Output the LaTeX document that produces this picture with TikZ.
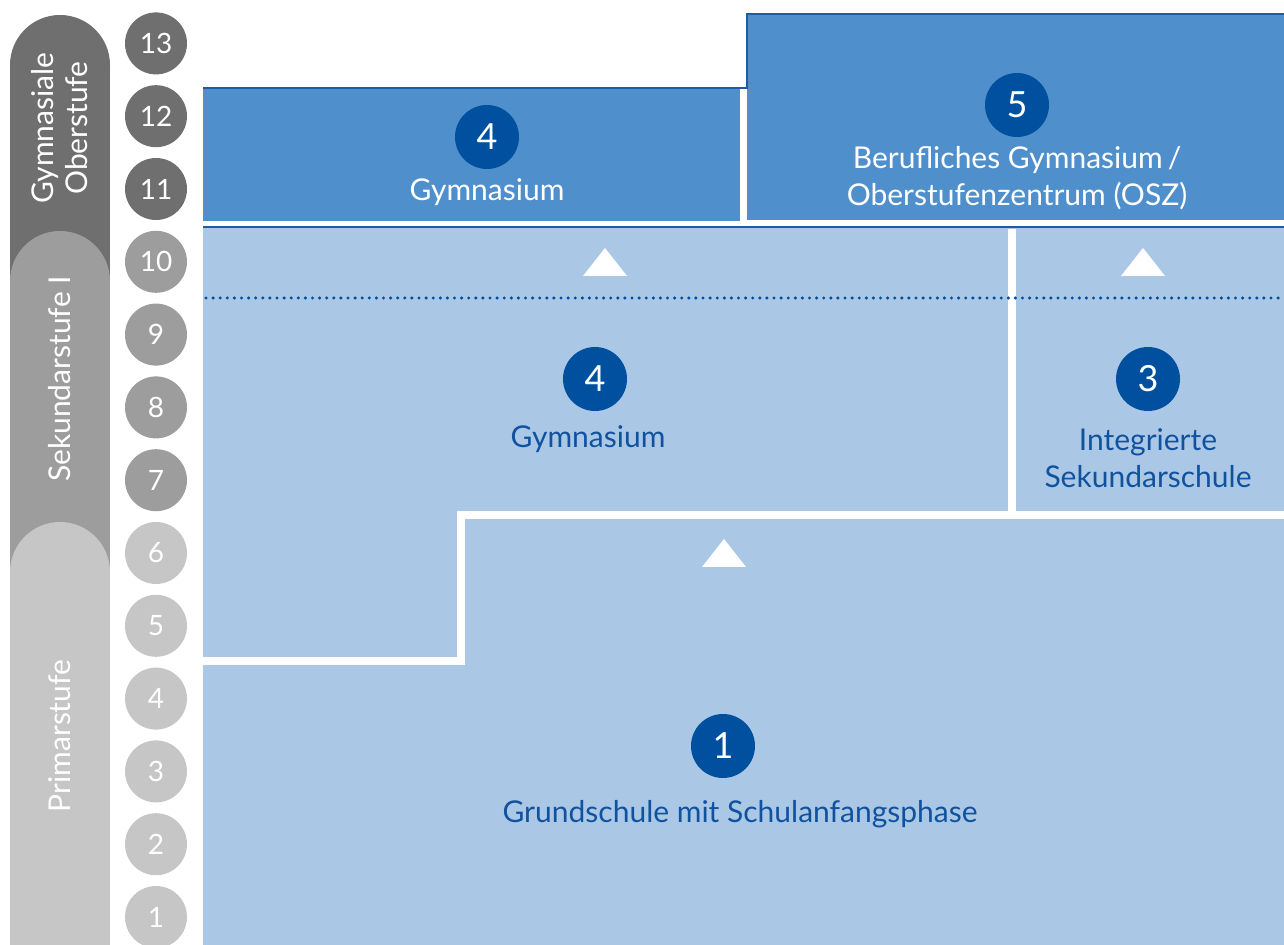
\documentclass[tikz,border=0pt]{standalone}
\usepackage{fontspec}
\setmainfont{Lato}
\definecolor{gdark}{RGB}{111,111,111}
\definecolor{gmid}{RGB}{157,157,157}
\definecolor{glight}{RGB}{198,198,198}
\definecolor{bupper}{RGB}{79,143,204}
\definecolor{blight}{RGB}{170,200,229}
\definecolor{bcircle}{RGB}{0,80,160}
\definecolor{bline}{RGB}{30,90,170}
\definecolor{btext}{RGB}{16,82,160}
\tikzset{
  grade/.style={circle,minimum size=31pt,inner sep=0pt,text=white,font=\fontsize{14}{14}\selectfont},
  num/.style={circle,fill=bcircle,minimum size=32pt,inner sep=0pt,text=white,font=\fontsize{18}{18}\selectfont},
  lbl/.style={align=center,font=\fontsize{15}{18.5}\selectfont},
  bandtext/.style={rotate=90,align=center,text=white,font=\fontsize{15}{17}\selectfont},
  gap/.style={white,line width=3.6pt},
  arrowtri/.style={fill=white}
}
\begin{document}
\begin{tikzpicture}[x=0.5pt,y=-0.5pt]
\useasboundingbox (0,0) rectangle (1284,945);
% left bands
\fill[gdark] (60,65) circle[radius=50];
\fill[gdark] (10,65) rectangle (110,600);
\fill[gmid] (60,281) circle[radius=50];
\fill[gmid] (10,281) rectangle (110,600);
\fill[glight] (60,572) circle[radius=50];
\fill[glight] (10,572) rectangle (110,945);
\node[bandtext] (bo) at (60,128) {Gymnasiale\\Oberstufe};
\node[bandtext] (bs) at (60,379) {Sekundarstufe I};
\node[bandtext] (bp) at (60,736) {Primarstufe};
% grade circles
\foreach \k in {1,...,13}{
  \pgfmathsetmacro{\yy}{917-(\k-1)*72.8}
  \ifnum\k>10 \def\cc{gdark}\else\ifnum\k>6 \def\cc{gmid}\else\def\cc{glight}\fi\fi
  \node[grade,fill=\cc] (g\k) at (156,\yy) {\k};
}
% upper boxes
\fill[bupper] (203,88) rectangle (740,221);
\fill[bupper] (747,14) rectangle (1284,220);
\draw[bline,line width=1.2pt] (203,88) -- (747,88) -- (747,14) -- (1284,14);
% light area
\fill[blight] (203,227) rectangle (1284,945);
\draw[bline,line width=1.2pt] (203,227) -- (1284,227);
\draw[gap] (1012,229) -- (1012,515);
\draw[gap] (203,661) -- (461,661) -- (461,515) -- (1284,515);
\draw[bcircle,line width=1.7pt,line cap=round,dash pattern=on 0pt off 3.55pt] (206,298) -- (1284,298);
% arrows
\fill[arrowtri] (583,276) -- (605,248) -- (627,276) -- cycle;
\fill[arrowtri] (1121,276) -- (1143,248) -- (1165,276) -- cycle;
\fill[arrowtri] (702,567) -- (724,539) -- (746,567) -- cycle;
% numbered circles and labels
\node[num] (n4o) at (487,137) {4};
\node[lbl,text=white] (t4o) at (487,192) {Gymnasium};
\node[num] (n5) at (1017,105) {5};
\node[lbl,text=white] (t5) at (1017,178) {Berufliches Gymnasium\,/\\Oberstufenzentrum (OSZ)};
\node[num] (n4s) at (595,379) {4};
\node[lbl,text=btext] (t4s) at (588,439) {Gymnasium};
\node[num] (n3) at (1148,379) {3};
\node[lbl,text=btext] (t3) at (1148,458) {Integrierte\\Sekundarschule};
\node[num] (n1) at (723,746) {1};
\node[lbl,text=btext] (t1) at (740,814) {Grundschule mit Schulanfangsphase};
\end{tikzpicture}
\end{document}
